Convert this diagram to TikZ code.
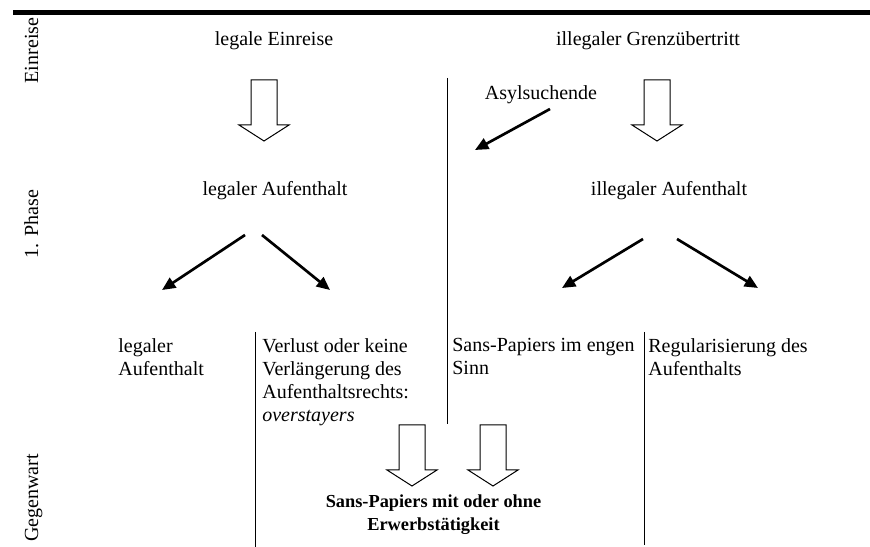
\documentclass[tikz,border=0pt]{standalone}
\usepackage{fontspec}
\setmainfont{Liberation Serif}
\usetikzlibrary{arrows.meta}

\tikzset{
  txt/.style={inner sep=0pt,font=\fontsize{12}{13.8}\selectfont},
  phase/.style={txt,rotate=90,anchor=base},
  fork/.style={line width=1.6pt,-{Triangle[length=8pt,width=7pt]}},
  hohl/.style={line width=0.6pt,fill=white},
}

\begin{document}
\begin{tikzpicture}[x=6pt,y=-6pt]
      \useasboundingbox (0,0) rectangle (87,54.7);
      \draw[line width=3pt](1.3,1.25)--(87,1.25);
      % Zeitachse
      \node[phase] (einreise) at (3.8,5.05) {Einreise};
      \node[phase] (phase) at (3.8,22.4) {1. Phase};
      \node[phase] (gegenwart) at (3.8,49.8) {Gegenwart};
      % Einreise
      \node[txt,anchor=base] (legein) at (27.4,4.6) {legale Einreise};
      \node[txt,anchor=base] (illgrenz) at (64.8,4.6) {illegaler Grenzübertritt};
      \node[txt,anchor=base] (asyl) at (54.1,10.0) {Asylsuchende};
      \node[txt,anchor=base] (legauf) at (27.5,19.6) {legaler Aufenthalt};
      \node[txt,anchor=base] (illauf) at (66.9,19.6) {illegaler Aufenthalt};
      % 1. Phase
      \node[txt,anchor=north west,align=left] (legauf2) at (11.8,33.83)
        {legaler\\Aufenthalt};
      \node[txt,anchor=north west,align=left] (verlust) at (26.2,33.83)
        {Verlust oder keine\\Verlängerung des\\Aufenthaltsrechts:\\\textit{overstayers}};
      \node[txt,anchor=north west,align=left] (engen) at (45.2,33.83)
        {Sans-Papiers im engen\\Sinn};
      \node[txt,anchor=north west,align=left] (regul) at (64.8,33.83)
        {Regularisierung des\\Aufenthalts};
      % Gegenwart
      \node[txt,anchor=north,align=center,font=\fontsize{11}{13.8}\selectfont\bfseries]
        (sanspap) at (43.35,49.45) {Sans-Papiers mit oder ohne\\Erwerbstätigkeit};
      % Trennlinien
      \draw[line width=0.6pt](44.7,7.8)--(44.7,42.4);
      \draw[line width=0.6pt](25.5,33.2)--(25.5,54.7);
      \draw[line width=0.6pt](64.4,33.2)--(64.4,54.5);
      % Blockpfeile
      \foreach \cx/\y in {26.4/8.0,65.7/8.0,41.2/42.5,49.3/42.5}
        \draw[hohl](\cx-1.3,\y)--(\cx-1.3,\y+4.5)--(\cx-2.5,\y+4.5)--(\cx,\y+6.1)
          --(\cx+2.5,\y+4.5)--(\cx+1.3,\y+4.5)--(\cx+1.3,\y)--cycle;
      % Gabelpfeile
      \coordinate (asylA) at (55.0,10.9);
      \coordinate (asylB) at (47.5,15.0);
      \coordinate (lA) at (24.5,23.5);
      \coordinate (lB) at (26.2,23.5);
      \coordinate (lC) at (16.2,29.0);
      \coordinate (lD) at (33.0,29.0);
      \coordinate (rA) at (64.3,23.9);
      \coordinate (rB) at (67.7,23.9);
      \coordinate (rC) at (56.2,28.8);
      \coordinate (rD) at (75.8,28.8);
      \draw[fork](asylA)--(asylB);
      \draw[fork](lA)--(lC);
      \draw[fork](lB)--(lD);
      \draw[fork](rA)--(rC);
      \draw[fork](rB)--(rD);
    \end{tikzpicture}
\end{document}
